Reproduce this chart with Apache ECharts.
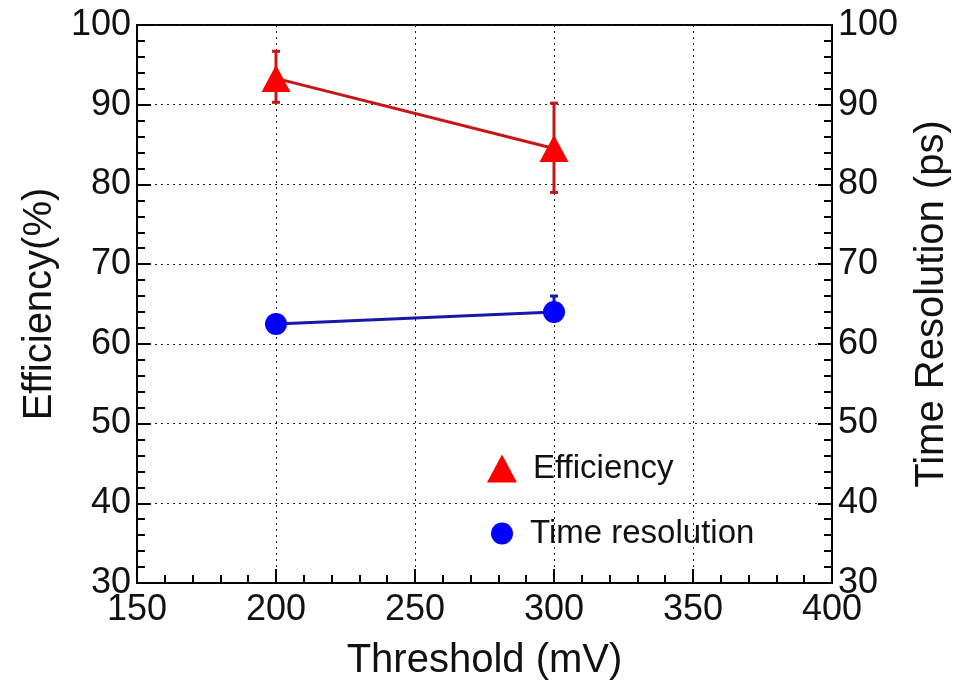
<!DOCTYPE html>
<html>
<head>
<meta charset="utf-8">
<script src="https://cdn.jsdelivr.net/npm/echarts@6/dist/echarts.min.js"></script>
<style>
html,body{margin:0;padding:0;background:#fff;}
#chart{width:965px;height:682px;}
</style>
</head>
<body>
<div id="chart"></div>
<script>
// values
var thresholds=[200,300];
var efficiency=[93.3,84.5];
var effErrLow=[3.0,5.5];
var effErrHigh=[3.4,5.7];
var timeRes=[62.5,64.0];
var timeErrLow=[1.0,1.0];
var timeErrHigh=[1.0,2.0];

var font="'Liberation Sans', Arial, sans-serif";
var effColor='#ff0000';
var effLine='#c81616';
var resColor='#0000ff';
var resLine='#1818a8';

function errBar(color){
  return function(params,api){
    var x=api.value(0),y=api.value(1);
    var top=api.coord([x,y+api.value(3)]);
    var bot=api.coord([x,y-api.value(2)]);
    var w=4;
    var st={stroke:color,lineWidth:3};
    return {type:'group',children:[
      {type:'line',shape:{x1:top[0],y1:top[1],x2:bot[0],y2:bot[1]},style:st},
      {type:'line',shape:{x1:top[0]-w,y1:top[1],x2:top[0]+w,y2:top[1]},style:st},
      {type:'line',shape:{x1:bot[0]-w,y1:bot[1],x2:bot[0]+w,y2:bot[1]},style:st}
    ]};
  };
}

var yAxisBase=function(pos,name,gap){
  return {
    type:'value',position:pos,min:30,max:100,interval:10,
    name:name,nameLocation:'middle',nameGap:gap,nameRotate:90,
    nameTextStyle:{fontFamily:font,fontSize:40,color:'#111'},
    axisLine:{show:true,lineStyle:{color:'#000',width:2}},
    axisTick:{show:true,inside:true,length:14,lineStyle:{color:'#000',width:2}},
    minorTick:{show:true,splitNumber:5,length:8,lineStyle:{color:'#000',width:2}},
    axisLabel:{fontFamily:font,fontSize:36,color:'#111',margin:6},
    splitLine:{show:pos=='left',lineStyle:{color:'#222',type:[2,4],width:1}}
  };
};

var chart=echarts.init(document.getElementById('chart'));
var chartoptions={
  animation:false,
  grid:{left:137,right:133,top:25,bottom:99,outerBoundsMode:'none',show:true,borderColor:'#000',borderWidth:2},
  legend:[
    {
      data:[{name:'Efficiency',icon:'triangle',itemStyle:{color:effColor}}],
      left:482,top:447,itemWidth:30,itemHeight:28,
      textStyle:{fontFamily:font,fontSize:33,color:'#111',padding:[0,0,0,11]}
    },
    {
      data:[{name:'Time resolution',icon:'circle',itemStyle:{color:resColor}}],
      left:486,top:512,itemWidth:22,itemHeight:22,
      textStyle:{fontFamily:font,fontSize:33,color:'#111',padding:[0,0,0,12]}
    }
  ],
  xAxis:{
    type:'value',min:150,max:400,interval:50,
    name:'Threshold (mV)',nameLocation:'middle',nameGap:58,
    nameTextStyle:{fontFamily:font,fontSize:40,color:'#111'},
    axisLine:{show:true,lineStyle:{color:'#000',width:2}},
    axisTick:{show:true,inside:true,length:14,lineStyle:{color:'#000',width:2}},
    minorTick:{show:true,splitNumber:5,length:8,lineStyle:{color:'#000',width:2}},
    axisLabel:{fontFamily:font,fontSize:36,color:'#111',margin:9},
    splitLine:{show:true,lineStyle:{color:'#222',type:[2,4],width:1}}
  },
  yAxis:[yAxisBase('left','Efficiency(%)',74),yAxisBase('right','Time Resolution (ps)',80)],
  series:[
    {
      name:'Efficiency',type:'custom',yAxisIndex:0,z:1,
      renderItem:errBar(effLine),
      itemStyle:{color:effColor},
      encode:{x:0,y:1},
      data:thresholds.map((x,i)=>[x,efficiency[i],effErrLow[i],effErrHigh[i]])
    },
    {
      name:'Time resolution',type:'custom',yAxisIndex:1,z:1,
      renderItem:errBar(resLine),
      itemStyle:{color:resColor},
      encode:{x:0,y:1},
      data:thresholds.map((x,i)=>[x,timeRes[i],timeErrLow[i],timeErrHigh[i]])
    },
    {
      name:'Efficiency',type:'line',yAxisIndex:0,z:3,
      data:thresholds.map((x,i)=>[x,efficiency[i]]),
      symbol:'triangle',symbolSize:[29,27],
      itemStyle:{color:effColor},
      lineStyle:{color:effLine,width:3}
    },
    {
      name:'Time resolution',type:'line',yAxisIndex:1,z:3,
      data:thresholds.map((x,i)=>[x,timeRes[i]]),
      symbol:'circle',symbolSize:22,
      itemStyle:{color:resColor},
      lineStyle:{color:resLine,width:3}
    }
  ]
};
chart.setOption(chartoptions);
</script>
</body>
</html>
